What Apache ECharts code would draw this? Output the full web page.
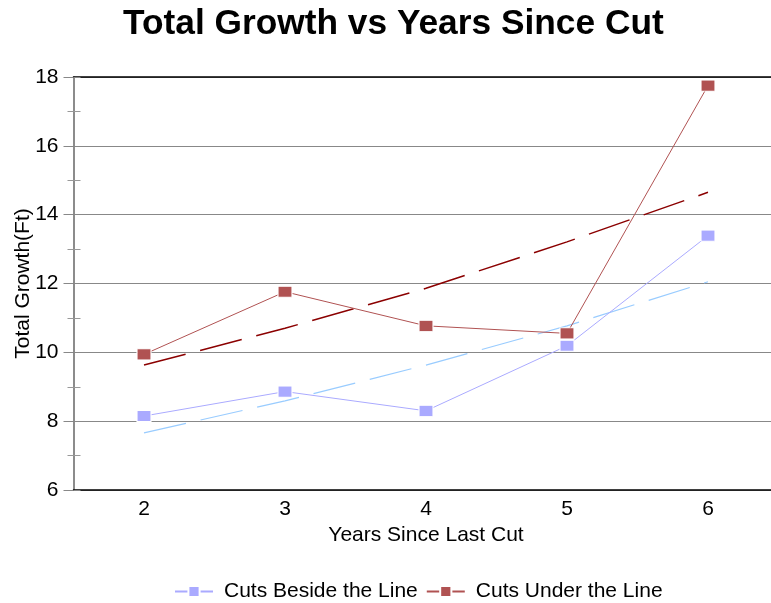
<!DOCTYPE html>
<html>
<head>
<meta charset="utf-8">
<script src="https://cdn.jsdelivr.net/npm/echarts@6/dist/echarts.min.js"></script>
<style>
  html, body { margin: 0; padding: 0; background: #fff; overflow: hidden; }
  #chart { width: 779px; height: 603px; }
</style>
</head>
<body>
<div id="chart"></div>
<script>
// 数据
var years = ['2', '3', '4', '5', '6'];
var besideLine = [8.15, 8.86, 8.30, 10.19, 13.39];
var underLine = [9.94, 11.76, 10.77, 10.55, 17.75];
// trend lines
var besideTrend = [7.66, 8.59, 9.63, 10.77, 12.05];
var underTrend = [9.63, 10.70, 11.86, 13.21, 14.65];
var yTicks = { min: 6, max: 18, interval: 2 };

var FONT = 'Liberation Sans, Arial, sans-serif';

var chart = echarts.init(document.getElementById('chart'));
var option = {
    animation: false,
    title: {
        text: 'Total Growth vs Years Since Cut',
        left: 118,
        top: 2,
        textStyle: { fontFamily: FONT, fontSize: 35.3, fontWeight: 'bold', color: '#000' }
    },
    legend: {
        top: 576,
        left: 169,
        itemWidth: 38,
        itemHeight: 14,
        itemGap: 8,
        textStyle: { fontFamily: FONT, fontSize: 21, color: '#000', padding: [0, 0, 0, 6] },
        data: ['Cuts Beside the Line', 'Cuts Under the Line']
    },
    // plot runs a little past the right edge of the window, as in the original
    grid: { left: 73.5, right: 0.5, top: 77, bottom: 113, outerBoundsMode: 'none', containLabel: false },
    xAxis: [
        {
            type: 'category',
            data: years,
            position: 'bottom',
            name: 'Years Since Last Cut',
            nameLocation: 'middle',
            nameGap: 32,
            nameTextStyle: { fontFamily: FONT, fontSize: 21, color: '#000' },
            axisLine: { lineStyle: { color: '#000', width: 1.5 } },
            axisTick: { alignWithLabel: true, length: 7, lineStyle: { color: '#999' } },
            axisLabel: { fontFamily: FONT, fontSize: 21, color: '#000', margin: 9 }
        },
        {
            type: 'category',
            data: years,
            position: 'bottom',
            axisLine: { show: false },
            axisTick: { alignWithLabel: true, inside: true, length: 7, lineStyle: { color: '#999' } },
            axisLabel: { show: false }
        },
        {
            type: 'category',
            data: years,
            position: 'top',
            axisLine: { lineStyle: { color: '#000', width: 1.5 } },
            axisTick: { show: false },
            axisLabel: { show: false }
        }
    ],
    yAxis: [
        {
            type: 'value',
            min: yTicks.min,
            max: yTicks.max,
            interval: yTicks.interval,
            name: 'Total Growth(Ft)',
            nameLocation: 'middle',
            nameGap: 40,
            nameMoveOverlap: false,
            nameTextStyle: { fontFamily: FONT, fontSize: 21, color: '#000' },
            axisLine: { show: true, lineStyle: { color: '#666', width: 1.5 } },
            axisTick: { show: true, length: 10, lineStyle: { color: '#888' } },
            minorTick: { show: true, splitNumber: 2, length: 6, lineStyle: { color: '#999' } },
            splitLine: { show: true, lineStyle: { color: '#888', width: 1 } },
            axisLabel: { fontFamily: FONT, fontSize: 21, color: '#000', margin: 15 }
        },
        {
            type: 'value',
            min: yTicks.min,
            max: yTicks.max,
            interval: yTicks.interval,
            position: 'left',
            axisLine: { show: false },
            axisTick: { show: true, inside: true, length: 7, lineStyle: { color: '#888' } },
            minorTick: { show: true, splitNumber: 2, length: 7, lineStyle: { color: '#999' } },
            splitLine: { show: false },
            axisLabel: { show: false }
        }
    ],
    series: [
        {
            name: 'trend beside',
            type: 'line',
            data: besideTrend,
            symbol: 'none',
            silent: true,
            lineStyle: { color: '#99ccff', width: 1.2, type: [43, 15] },
            z: 1
        },
        {
            name: 'trend under',
            type: 'line',
            data: underTrend,
            symbol: 'none',
            silent: true,
            lineStyle: { color: '#8b0000', width: 1.5, type: [43, 15] },
            z: 1
        },
        {
            name: 'Cuts Beside the Line',
            type: 'line',
            data: besideLine,
            symbol: 'rect',
            symbolSize: [14, 11],
            itemStyle: { color: '#aaaaff', borderColor: '#fff', borderWidth: 1 },
            lineStyle: { color: '#aaaaff', width: 1 },
            z: 3
        },
        {
            name: 'Cuts Under the Line',
            type: 'line',
            data: underLine,
            symbol: 'rect',
            symbolSize: [14, 11],
            itemStyle: { color: '#b05252', borderColor: '#fff', borderWidth: 1 },
            lineStyle: { color: '#b05252', width: 1 },
            z: 3
        }
    ]
};
chart.setOption(option);
</script>
</body>
</html>
